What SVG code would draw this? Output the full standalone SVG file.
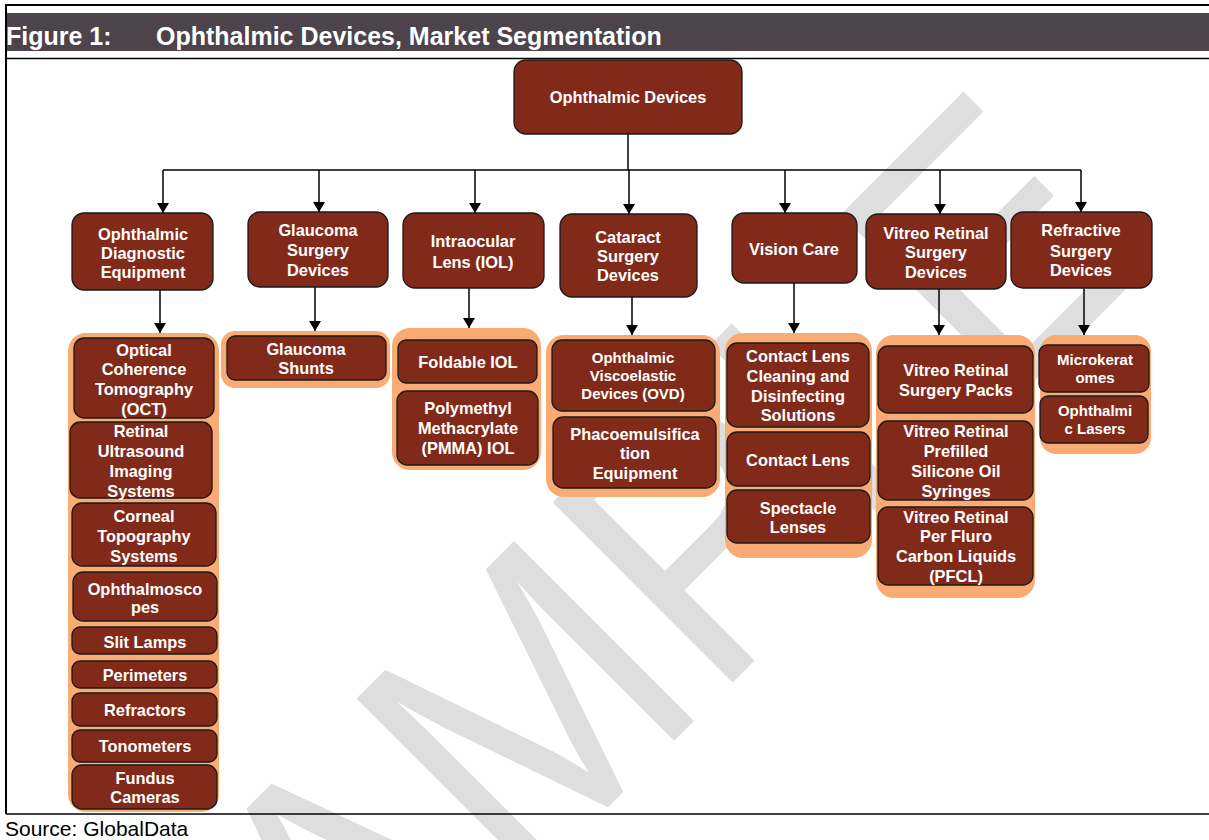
<svg xmlns="http://www.w3.org/2000/svg" width="1209" height="840" viewBox="0 0 1209 840">
<defs>
<style>
.n{fill:#822a1a;stroke:#1a1a1a;stroke-width:1.3}
.g{fill:#f9ab73;stroke:none}
.t{fill:#fff;font-family:"Liberation Sans",Arial,sans-serif;font-weight:bold;font-size:16.4px;text-anchor:middle}
.s{font-size:15px}
.c{stroke:#000;stroke-width:1.5;fill:none}
.wm{fill:#dedede;font-family:"Liberation Sans",Arial,sans-serif;font-size:370px}
.h{fill:#fff;font-family:"Liberation Sans",Arial,sans-serif;font-weight:bold;font-size:25px}
</style>
<marker id="ah" viewBox="0 0 10 12" refX="10" refY="6" markerWidth="10" markerHeight="12" markerUnits="userSpaceOnUse" orient="auto"><path d="M0,0 L10,6 L0,12 z" fill="#000"/></marker>
</defs>
<rect width="1209" height="840" fill="#fff"/>
<g id="watermark"><text class="wm" transform="translate(203,1212) rotate(-45) scale(0.9,1)">SAMPLE</text></g>
<g id="frame">
<line x1="5" y1="5" x2="1209" y2="5" stroke="#000" stroke-width="2"/>
<line x1="6" y1="4" x2="6" y2="814" stroke="#000" stroke-width="2"/>
<rect x="7" y="13" width="1202" height="38" fill="#4d434b"/>
<line x1="6" y1="58.5" x2="1209" y2="58.5" stroke="#000" stroke-width="1.3"/>
<line x1="6" y1="814" x2="1209" y2="814" stroke="#000" stroke-width="1.3"/>
<text class="h" x="6" y="45">Figure 1:</text>
<text class="h" x="156" y="45">Ophthalmic Devices, Market Segmentation</text>
<text x="5" y="836" fill="#000" font-family="'Liberation Sans',Arial,sans-serif" font-size="21">Source: GlobalData</text>
</g>
<g id="connectors" class="c">
<line x1="628" y1="134" x2="628" y2="170"/>
<line x1="163" y1="170" x2="1081" y2="170"/>
<line x1="163" y1="170" x2="163" y2="213" marker-end="url(#ah)"/>
<line x1="319" y1="170" x2="319" y2="212" marker-end="url(#ah)"/>
<line x1="475" y1="170" x2="475" y2="213" marker-end="url(#ah)"/>
<line x1="629" y1="170" x2="629" y2="214" marker-end="url(#ah)"/>
<line x1="785" y1="170" x2="785" y2="213" marker-end="url(#ah)"/>
<line x1="940" y1="170" x2="940" y2="214" marker-end="url(#ah)"/>
<line x1="1081" y1="170" x2="1081" y2="212" marker-end="url(#ah)"/>
<line x1="160" y1="290" x2="160" y2="333" marker-end="url(#ah)"/>
<line x1="315" y1="287" x2="315" y2="331" marker-end="url(#ah)"/>
<line x1="469" y1="288" x2="469" y2="328" marker-end="url(#ah)"/>
<line x1="632" y1="297" x2="632" y2="335" marker-end="url(#ah)"/>
<line x1="794" y1="283" x2="794" y2="333" marker-end="url(#ah)"/>
<line x1="939" y1="289" x2="939" y2="335" marker-end="url(#ah)"/>
<line x1="1084" y1="288" x2="1084" y2="335" marker-end="url(#ah)"/>
</g>
<g id="root"><rect class="n" x="514" y="60" width="228" height="74" rx="12"/><text class="t" x="628" y="103">Ophthalmic Devices</text></g>
<g id="diag"><rect class="n" x="72" y="213" width="141" height="77" rx="12"/><text class="t"><tspan x="143" y="240">Ophthalmic</tspan><tspan x="143" y="259">Diagnostic</tspan><tspan x="143" y="278">Equipment</tspan></text></g>
<g id="glaucoma"><rect class="n" x="248" y="212" width="140" height="75" rx="12"/><text class="t"><tspan x="318" y="236">Glaucoma</tspan><tspan x="318" y="256">Surgery</tspan><tspan x="318" y="276">Devices</tspan></text></g>
<g id="iol"><rect class="n" x="403" y="213" width="141" height="75" rx="12"/><text class="t"><tspan x="473" y="247">Intraocular</tspan><tspan x="473" y="268">Lens (IOL)</tspan></text></g>
<g id="cataract"><rect class="n" x="560" y="214" width="137" height="83" rx="12"/><text class="t"><tspan x="628" y="243">Cataract</tspan><tspan x="628" y="262">Surgery</tspan><tspan x="628" y="281">Devices</tspan></text></g>
<g id="vision"><rect class="n" x="732" y="213" width="125" height="70" rx="12"/><text class="t" x="794" y="255">Vision Care</text></g>
<g id="vitreo"><rect class="n" x="866" y="214" width="140" height="75" rx="12"/><text class="t"><tspan x="936" y="239">Vitreo Retinal</tspan><tspan x="936" y="258">Surgery</tspan><tspan x="936" y="278">Devices</tspan></text></g>
<g id="refractive"><rect class="n" x="1011" y="212" width="141" height="76" rx="12"/><text class="t"><tspan x="1081" y="236">Refractive</tspan><tspan x="1081" y="257">Surgery</tspan><tspan x="1081" y="276">Devices</tspan></text></g>
<g id="g-diag">
<rect class="g" x="68" y="333" width="151" height="479" rx="18"/>
<rect class="n" x="74" y="338" width="140" height="80" rx="10"/><text class="t"><tspan x="144" y="356">Optical</tspan><tspan x="144" y="375">Coherence</tspan><tspan x="144" y="395">Tomography</tspan><tspan x="144" y="415">(OCT)</tspan></text>
<rect class="n" x="70" y="422" width="142" height="76" rx="10"/><text class="t"><tspan x="141" y="437">Retinal</tspan><tspan x="141" y="457">Ultrasound</tspan><tspan x="141" y="477">Imaging</tspan><tspan x="141" y="497">Systems</tspan></text>
<rect class="n" x="72" y="503" width="144" height="63" rx="10"/><text class="t"><tspan x="144" y="522">Corneal</tspan><tspan x="144" y="542">Topography</tspan><tspan x="144" y="562">Systems</tspan></text>
<rect class="n" x="73" y="572" width="144" height="49" rx="10"/><text class="t"><tspan x="145" y="595">Ophthalmosco</tspan><tspan x="145" y="613">pes</tspan></text>
<rect class="n" x="72" y="627" width="145" height="27" rx="8"/><text class="t" x="145" y="648">Slit Lamps</text>
<rect class="n" x="72" y="661" width="145" height="27" rx="8"/><text class="t" x="145" y="681">Perimeters</text>
<rect class="n" x="72" y="693" width="145" height="33" rx="8"/><text class="t" x="145" y="716">Refractors</text>
<rect class="n" x="72" y="730" width="145" height="32" rx="8"/><text class="t" x="145" y="752">Tonometers</text>
<rect class="n" x="72" y="765" width="145" height="44" rx="10"/><text class="t"><tspan x="145" y="784">Fundus</tspan><tspan x="145" y="803">Cameras</tspan></text>
</g>
<g id="g-glaucoma">
<rect class="g" x="221" y="331" width="169" height="57" rx="14"/>
<rect class="n" x="227" y="336" width="159" height="44" rx="8"/><text class="t"><tspan x="306" y="355">Glaucoma</tspan><tspan x="306" y="374">Shunts</tspan></text>
</g>
<g id="g-iol">
<rect class="g" x="392" y="328" width="149" height="142" rx="18"/>
<rect class="n" x="398" y="340" width="139" height="43" rx="8"/><text class="t" x="468" y="368">Foldable IOL</text>
<rect class="n" x="397" y="391" width="141" height="74" rx="10"/><text class="t"><tspan x="468" y="414">Polymethyl</tspan><tspan x="468" y="434">Methacrylate</tspan><tspan x="468" y="454">(PMMA) IOL</tspan></text>
</g>
<g id="g-cataract">
<rect class="g" x="546" y="335" width="174" height="162" rx="18"/>
<rect class="n" x="552" y="340" width="163" height="71" rx="10"/><text class="t s"><tspan x="633" y="363">Ophthalmic</tspan><tspan x="633" y="381">Viscoelastic</tspan><tspan x="633" y="399">Devices (OVD)</tspan></text>
<rect class="n" x="553" y="417" width="163" height="71" rx="10"/><text class="t"><tspan x="635" y="440">Phacoemulsifica</tspan><tspan x="635" y="459">tion</tspan><tspan x="635" y="479">Equipment</tspan></text>
</g>
<g id="g-vision">
<rect class="g" x="725" y="333" width="147" height="225" rx="18"/>
<rect class="n" x="727" y="343" width="142" height="84" rx="10"/><text class="t"><tspan x="798" y="362">Contact Lens</tspan><tspan x="798" y="382">Cleaning and</tspan><tspan x="798" y="402">Disinfecting</tspan><tspan x="798" y="421">Solutions</tspan></text>
<rect class="n" x="727" y="432" width="143" height="54" rx="10"/><text class="t" x="798" y="466">Contact Lens</text>
<rect class="n" x="727" y="490" width="143" height="53" rx="10"/><text class="t"><tspan x="798" y="514">Spectacle</tspan><tspan x="798" y="533">Lenses</tspan></text>
</g>
<g id="g-vitreo">
<rect class="g" x="876" y="335" width="159" height="263" rx="18"/>
<rect class="n" x="878" y="346" width="155" height="67" rx="10"/><text class="t"><tspan x="956" y="376">Vitreo Retinal</tspan><tspan x="956" y="396">Surgery Packs</tspan></text>
<rect class="n" x="878" y="421" width="155" height="79" rx="10"/><text class="t"><tspan x="956" y="437">Vitreo Retinal</tspan><tspan x="956" y="457">Prefilled</tspan><tspan x="956" y="477">Silicone Oil</tspan><tspan x="956" y="497">Syringes</tspan></text>
<rect class="n" x="878" y="507" width="155" height="78" rx="10"/><text class="t"><tspan x="956" y="523">Vitreo Retinal</tspan><tspan x="956" y="542">Per Fluro</tspan><tspan x="956" y="562">Carbon Liquids</tspan><tspan x="956" y="582">(PFCL)</tspan></text>
</g>
<g id="g-refractive">
<rect class="g" x="1040" y="335" width="111" height="119" rx="16"/>
<rect class="n" x="1039" y="345" width="110" height="47" rx="8"/><text class="t s"><tspan x="1095" y="365">Microkerat</tspan><tspan x="1095" y="383">omes</tspan></text>
<rect class="n" x="1040" y="396" width="108" height="47" rx="8"/><text class="t s"><tspan x="1095" y="416">Ophthalmi</tspan><tspan x="1095" y="434">c Lasers</tspan></text>
</g>
</svg>
